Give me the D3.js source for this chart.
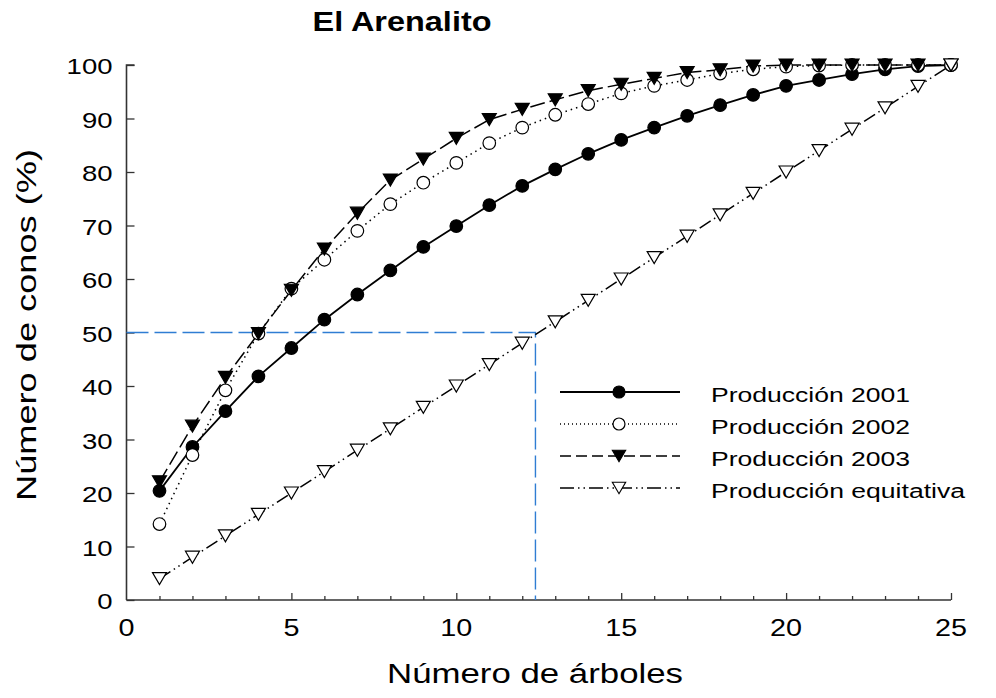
<!DOCTYPE html>
<html>
<head>
<meta charset="utf-8">
<script src="https://cdn.jsdelivr.net/npm/d3@7/dist/d3.min.js"></script>
<style>
  html, body { margin: 0; padding: 0; background: #fff; }
  svg { display: block; font-family: "Liberation Sans", Arial, sans-serif; }
</style>
</head>
<body>
<div id="chart"></div>
<script>
const trees = [1, 2, 3, 4, 5, 6, 7, 8, 9, 10, 11, 12, 13, 14, 15, 16, 17, 18, 19, 20, 21, 22, 23, 24, 25];
const prod2001 = [20.4, 28.6, 35.3, 41.8, 47.1, 52.4, 57.1, 61.6, 66.0, 69.9, 73.8, 77.4, 80.5, 83.4, 86.0, 88.3, 90.5, 92.5, 94.4, 96.1, 97.2, 98.3, 99.2, 99.8, 100];
const prod2002 = [14.2, 27.1, 39.2, 49.8, 58.2, 63.6, 69.0, 74.0, 78.0, 81.7, 85.4, 88.3, 90.7, 92.7, 94.7, 96.1, 97.2, 98.4, 99.2, 99.7, 99.9, 100, 100, 100, 100];
const prod2003 = [22.1, 32.5, 41.6, 49.8, 57.9, 65.6, 72.3, 78.5, 82.4, 86.3, 89.8, 91.7, 93.5, 95.2, 96.4, 97.5, 98.6, 99.1, 99.8, 100, 100, 100, 100, 100, 100];
const prodEquitativa = [4, 8, 12, 16, 20, 24, 28, 32, 36, 40, 44, 48, 52, 56, 60, 64, 68, 72, 76, 80, 84, 88, 92, 96, 100];
const seriesNames = ['Producción 2001', 'Producción 2002', 'Producción 2003', 'Producción equitativa'];
const xTicks = [0, 5, 10, 15, 20, 25];
const yTicks = [0, 10, 20, 30, 40, 50, 60, 70, 80, 90, 100];
const halfPoint = [12.4, 50];

const width = 996;
const height = 698;
const blue = '#2f7dd3';

const svg = d3.select('#chart').append('svg')
  .attr('width', width)
  .attr('height', height);

const x = d3.scaleLinear().domain([0, 25]).range([126.5, 951]);
const y = d3.scaleLinear().domain([0, 100]).range([600, 65]);

// stretch text horizontally like the original export
const widen = (sel, k) => sel.each(function() {
  const len = this.getComputedTextLength();
  d3.select(this).attr('textLength', len * k).attr('lengthAdjust', 'spacingAndGlyphs');
});

// axes
const yAxis = svg.append('g')
  .attr('transform', `translate(${x(0)},0)`)
  .call(d3.axisRight(y).tickValues(yTicks).tickSize(8).tickFormat(''));
yAxis.select('.domain').attr('d', `M8,${y(100)}H0V${y(0)}`);

const xAxis = svg.append('g')
  .attr('transform', `translate(0,${y(0)})`)
  .call(d3.axisTop(x).tickValues(d3.range(1, 26)).tickSize(4).tickFormat(''));
xAxis.selectAll('.tick line').filter(d => d % 5 === 0).attr('y2', -7);
xAxis.select('.domain').attr('d', `M${x(0)},0H${x(25)}`);

svg.selectAll('.domain').attr('stroke', '#333').attr('stroke-width', 1.6);
svg.selectAll('.tick line').attr('stroke', '#333').attr('stroke-width', 1.3);

svg.append('g').selectAll('text')
  .data(yTicks)
  .join('text')
  .attr('x', 112.5)
  .attr('y', d => y(d) + 9)
  .attr('text-anchor', 'end')
  .attr('font-size', 22)
  .text(d => d)
  .call(widen, 1.25);

svg.append('g').selectAll('text')
  .data(xTicks)
  .join('text')
  .attr('x', d => x(d))
  .attr('y', 636)
  .attr('text-anchor', 'middle')
  .attr('font-size', 23)
  .text(d => d)
  .call(widen, 1.25);

// titles
svg.append('text')
  .attr('x', 402)
  .attr('y', 31)
  .attr('text-anchor', 'middle')
  .attr('font-size', 28)
  .attr('font-weight', 'bold')
  .attr('textLength', 179)
  .attr('lengthAdjust', 'spacingAndGlyphs')
  .text('El Arenalito');

svg.append('text')
  .attr('x', 535)
  .attr('y', 683)
  .attr('text-anchor', 'middle')
  .attr('font-size', 27)
  .attr('textLength', 296)
  .attr('lengthAdjust', 'spacingAndGlyphs')
  .text('Número de árboles');

svg.append('text')
  .attr('transform', 'translate(36,325) rotate(-90)')
  .attr('text-anchor', 'middle')
  .attr('font-size', 28)
  .attr('textLength', 352)
  .attr('lengthAdjust', 'spacingAndGlyphs')
  .text('Número de conos (%)');

// 50 % reference lines
svg.append('path')
  .attr('d', `M${x(0)},${y(halfPoint[1])}H${x(halfPoint[0])}V${y(0)}`)
  .attr('fill', 'none')
  .attr('stroke', blue)
  .attr('stroke-width', 1.4)
  .attr('stroke-dasharray', '22,6');

// series
const triDown = 'M-7,-6L7,-6L0,6Z';
const series = [
  { name: seriesNames[0], values: prod2001, dash: null, legendDash: null, marker: 'circle', fill: '#000' },
  { name: seriesNames[1], values: prod2002, dash: '1.5,4', legendDash: '1,3', marker: 'circle', fill: '#fff' },
  { name: seriesNames[2], values: prod2003, dash: '15,5', legendDash: '11,5', marker: 'tri', fill: '#000' },
  { name: seriesNames[3], values: prodEquitativa, dash: '13,4,1.5,4,1.5,4', legendDash: '14,4,1.5,4,1.5,4', marker: 'tri', fill: '#fff' }
];

const line = d3.line()
  .x((d, i) => x(trees[i]))
  .y(d => y(d));

const drawMarker = (g, s, cx, cy, scale) => {
  if (s.marker === 'circle') {
    g.append('circle')
      .attr('cx', cx)
      .attr('cy', cy)
      .attr('r', 6.3 * scale)
      .attr('fill', s.fill)
      .attr('stroke', '#000')
      .attr('stroke-width', 1.2);
  } else {
    g.append('path')
      .attr('d', triDown)
      .attr('transform', `translate(${cx},${cy}) scale(${scale})`)
      .attr('fill', s.fill)
      .attr('stroke', '#000')
      .attr('stroke-width', 1.2);
  }
};

const lines = svg.append('g');
series.forEach(s => {
  lines.append('path')
    .attr('d', line(s.values))
    .attr('fill', 'none')
    .attr('stroke', '#000')
    .attr('stroke-width', s.dash === null ? 1.8 : 1.5)
    .attr('stroke-dasharray', s.dash);
});

const markers = svg.append('g');
series.forEach(s => {
  s.values.forEach((v, i) => drawMarker(markers, s, x(trees[i]), y(v), 1));
});

// legend
const legend = svg.append('g');
series.forEach((s, i) => {
  const ly = 392 + i * 32;
  legend.append('line')
    .attr('x1', 560)
    .attr('x2', 680)
    .attr('y1', ly)
    .attr('y2', ly)
    .attr('stroke', '#000')
    .attr('stroke-width', s.legendDash === null ? 1.8 : 1.4)
    .attr('stroke-dasharray', s.legendDash);
  drawMarker(legend, s, 619, ly, 0.95);
  legend.append('text')
    .attr('x', 711)
    .attr('y', ly + 10)
    .attr('font-size', 20)
    .attr('textLength', i === 3 ? 254 : 199)
    .attr('lengthAdjust', 'spacingAndGlyphs')
    .text(s.name);
});
</script>
</body>
</html>
